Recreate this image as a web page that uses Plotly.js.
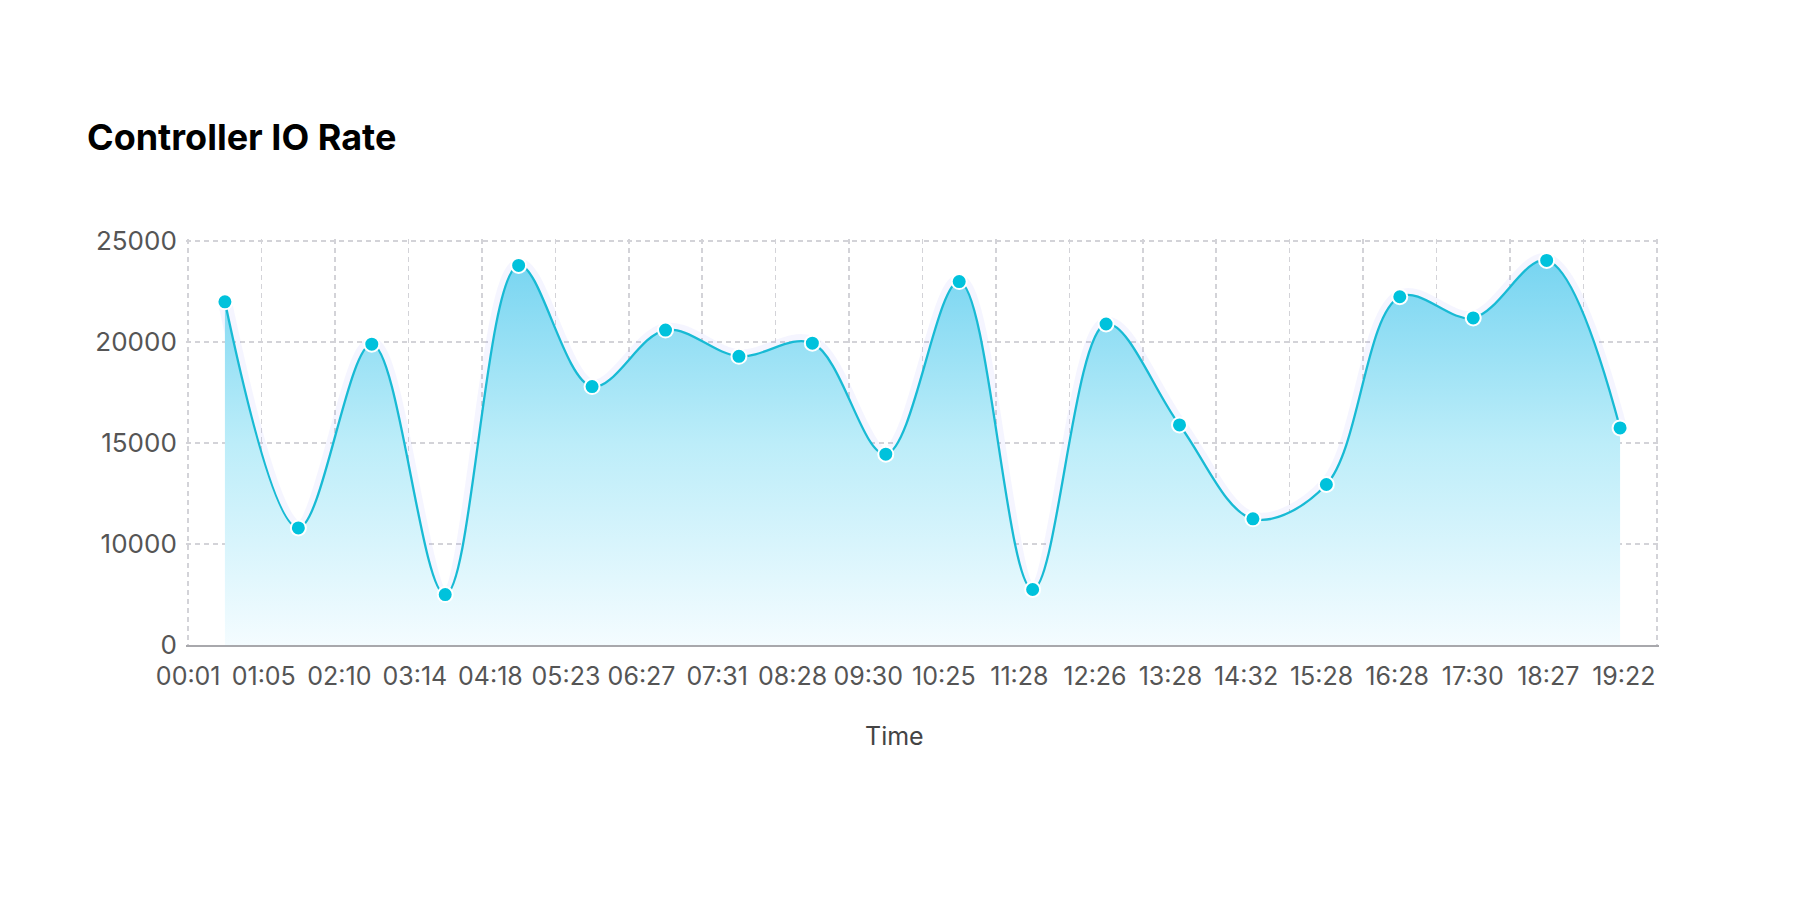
<!DOCTYPE html>
<html><head><meta charset="utf-8">
<script src="https://cdn.plot.ly/plotly-3.0.1.min.js"></script>
<style>html,body{margin:0;padding:0;background:#fff}#chart{width:1800px;height:900px}</style>
</head><body><div id="chart"></div>
<script>
const timeLabels = ['00:01','01:05','02:10','03:14','04:18','05:23','06:27','07:31','08:28','09:30',
                    '10:25','11:28','12:26','13:28','14:32','15:28','16:28','17:30','18:27','19:22'];
const ioRate = [22000, 10800, 19900, 7500, 23800, 17800, 20600, 19300, 19950, 14450,
                23000, 7750, 20900, 15900, 11250, 12950, 22250, 21200, 24050, 15750];
const yTickValues = [5000, 10000, 15000, 20000, 25000];
const yTickLabels = ['0', '10000', '15000', '20000', '25000'];

const n = timeLabels.length;
const xIndex = timeLabels.map((_, i) => i);
const gridPos = [];
for (let i = 0; i <= n; i++) gridPos.push(i - 0.5);
const labelStart = -0.5, labelStep = 1.029;
const labelPos = timeLabels.map((_, k) => labelStart + k * labelStep);
const xPad = 0.03, yPad = 110;
const xRange = [-0.5 - xPad, n - 0.5 + xPad];
const yRange = [yTickValues[0], yTickValues[yTickValues.length - 1] + yPad];

const glow = {
  x: xIndex, y: ioRate, type: 'scatter', mode: 'lines',
  line: {shape: 'spline', smoothing: 1, width: 14, color: 'rgba(110,120,255,0.07)'},
  hoverinfo: 'skip', showlegend: false
};
const main = {
  x: xIndex, y: ioRate, type: 'scatter', mode: 'lines+markers',
  line: {shape: 'spline', smoothing: 1, width: 2.3, color: '#18bad4'},
  marker: {size: 15, color: '#00c2dc', line: {color: '#ffffff', width: 2}},
  fill: 'tozeroy',
  fillgradient: {type: 'vertical', start: yTickValues[0], stop: yTickValues[yTickValues.length - 1],
    colorscale: [[0, 'rgb(244,252,255)'], [0.5, 'rgb(188,237,249)'], [1, 'rgb(112,210,240)']]},
  showlegend: false
};
const labelTrace = {
  x: labelPos, y: labelPos.map(() => null), xaxis: 'x2', yaxis: 'y',
  type: 'scatter', mode: 'markers', hoverinfo: 'skip', showlegend: false
};

const gridColor = '#d3d3d8';
const layout = {
  width: 1800, height: 900,
  paper_bgcolor: '#ffffff', plot_bgcolor: '#ffffff',
  margin: {l: 186, r: 141, t: 239, b: 255},
  font: {family: 'Inter, "Noto Sans", sans-serif', color: '#555555'},
  title: {text: 'Controller IO Rate', xref: 'container', yref: 'container',
          x: 87/1800, xanchor: 'left', y: 1 - 137/900, yanchor: 'middle',
          font: {family: 'Inter, sans-serif', size: 36, weight: 700, color: '#000000'}},
  xaxis: {
    range: xRange, tickmode: 'array', tickvals: gridPos, showticklabels: false,
    showgrid: true, gridcolor: gridColor, gridwidth: 1.5, griddash: '5px,4px',
    zeroline: false, showline: true, linecolor: '#a8a8ac', linewidth: 2, ticks: ''
  },
  xaxis2: {
    overlaying: 'x', anchor: 'y', side: 'bottom', range: xRange,
    tickmode: 'array', tickvals: labelPos, ticktext: timeLabels,
    showgrid: false, zeroline: false, showline: false,
    ticks: 'outside', ticklen: 9, tickcolor: 'rgba(0,0,0,0)',
    tickfont: {size: 25, color: '#555555'}
  },
  yaxis: {
    range: yRange, tickmode: 'array', tickvals: yTickValues, ticktext: yTickLabels,
    showgrid: true, gridcolor: gridColor, gridwidth: 1.5, griddash: '5px,4px',
    zeroline: false, showline: false, ticks: 'outside', ticklen: 3, tickcolor: 'rgba(0,0,0,0)',
    tickfont: {size: 26, color: '#555555'}
  },
  annotations: [{
    text: 'Time', xref: 'paper', yref: 'paper', x: 0.481, y: -0.223,
    xanchor: 'center', yanchor: 'middle', showarrow: false,
    font: {size: 25, color: '#444444'}
  }],
  showlegend: false
};
Plotly.newPlot('chart', [glow, main, labelTrace], layout, {displayModeBar: false, staticPlot: true});
</script>
</body></html>
